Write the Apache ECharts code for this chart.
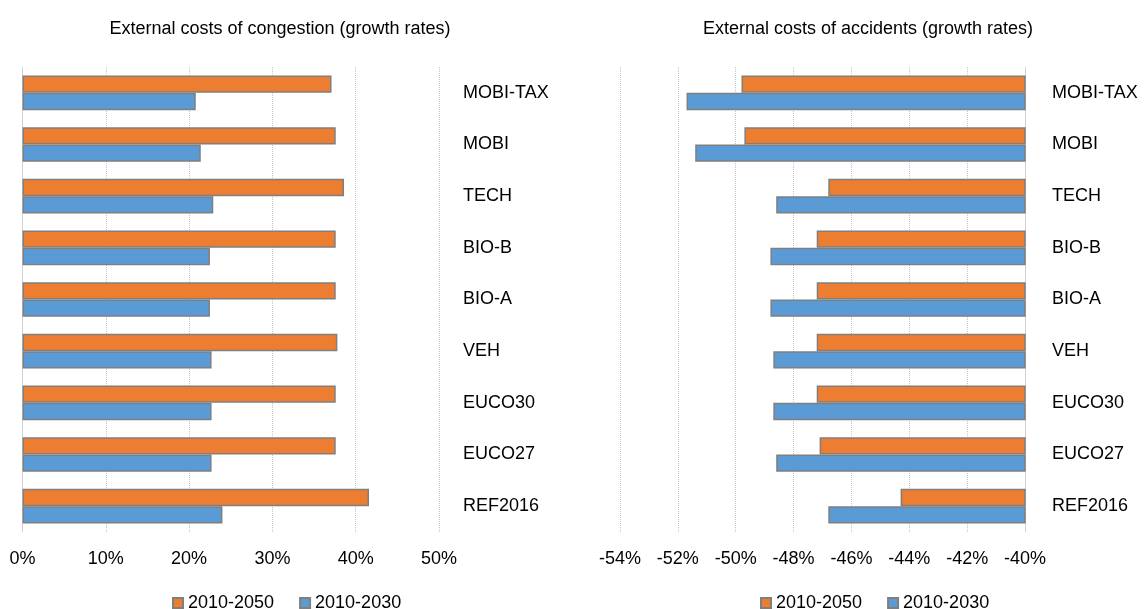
<!DOCTYPE html>
<html>
<head>
<meta charset="utf-8">
<script src="https://cdn.jsdelivr.net/npm/echarts@6/dist/echarts.min.js"></script>
<style>
  html, body { margin: 0; padding: 0; background: #fff; }
  #chart { width: 1144px; height: 609px; }
</style>
</head>
<body>
<div id="chart"></div>
<script>
// scenarios, top to bottom
const categories = ['MOBI-TAX', 'MOBI', 'TECH', 'BIO-B', 'BIO-A', 'VEH', 'EUCO30', 'EUCO27', 'REF2016'];
// congestion growth rates (%)
const congestion2050 = [37.1, 37.6, 38.6, 37.6, 37.6, 37.8, 37.6, 37.6, 41.6];
const congestion2030 = [20.8, 21.4, 22.9, 22.5, 22.5, 22.7, 22.7, 22.7, 24.0];
// accident growth rates (%)
const accidents2050 = [-49.8, -49.7, -46.8, -47.2, -47.2, -47.2, -47.2, -47.1, -44.3];
const accidents2030 = [-51.7, -51.4, -48.6, -48.8, -48.8, -48.7, -48.7, -48.6, -46.8];
const seriesNames = ['2010-2050', '2010-2030'];

const FONT = 'Liberation Sans, Arial, sans-serif';
const orange = '#ED7D31';
const blue = '#5B9BD5';
const gridColor = '#c6c6c6';
const txt = { color: '#000', fontFamily: FONT, fontSize: 18 };

let chart = echarts.init(document.getElementById('chart'));

function barSeries(name, data, color, idx) {
  return {
    type: 'bar',
    name: name,
    data: data,
    xAxisIndex: idx,
    yAxisIndex: idx === 0 ? 0 : 2,
    barGap: '0%',
    barCategoryGap: '33%',
    clip: true,
    itemStyle: { color: color, borderColor: '#7f7f7f', borderWidth: 1.5 },
    emphasis: { disabled: true }
  };
}

let option = {
  animation: false,
  backgroundColor: '#fff',
  title: [
    { text: 'External costs of congestion (growth rates)', left: 275, top: 15, textAlign: 'center',
      textStyle: { color: '#000', fontFamily: FONT, fontSize: 18, fontWeight: 'normal' } },
    { text: 'External costs of accidents (growth rates)', left: 863, top: 15, textAlign: 'center',
      textStyle: { color: '#000', fontFamily: FONT, fontSize: 18, fontWeight: 'normal' } }
  ],
  legend: [
    { data: seriesNames, left: 167, top: 589, icon: 'rect', itemWidth: 10, itemHeight: 10, itemGap: 25,
      textStyle: txt, selectedMode: false },
    { data: seriesNames, left: 755, top: 589, icon: 'rect', itemWidth: 10, itemHeight: 10, itemGap: 25,
      textStyle: txt, selectedMode: false }
  ],
  grid: [
    { left: 22.5, top: 67, width: 416.5, height: 465 },
    { left: 620, top: 67, width: 405, height: 465 }
  ],
  xAxis: [
    { type: 'value', gridIndex: 0, min: 0, max: 50, interval: 10,
      axisLine: { show: false }, axisTick: { show: false },
      axisLabel: Object.assign({ formatter: '{value}%', margin: 18 }, txt),
      splitLine: { show: true, lineStyle: { color: gridColor, type: 'dotted', width: 1 } } },
    { type: 'value', gridIndex: 1, min: -54, max: -40, interval: 2,
      axisLine: { show: false }, axisTick: { show: false },
      axisLabel: Object.assign({ formatter: '{value}%', margin: 18 }, txt),
      splitLine: { show: true, lineStyle: { color: gridColor, type: 'dotted', width: 1 } } }
  ],
  yAxis: [
    { type: 'category', gridIndex: 0, data: categories, inverse: true, position: 'left',
      axisLine: { show: true, lineStyle: { color: '#d0d0d0', width: 1 } },
      axisTick: { show: false }, axisLabel: { show: false } },
    { type: 'category', gridIndex: 0, data: categories, inverse: true, position: 'right',
      axisLine: { show: false }, axisTick: { show: false },
      axisLabel: Object.assign({ margin: 24, align: 'left' }, txt) },
    { type: 'category', gridIndex: 1, data: categories, inverse: true, position: 'right',
      axisLine: { show: true, onZero: false, lineStyle: { color: '#d0d0d0', width: 1 } },
      axisTick: { show: false },
      axisLabel: Object.assign({ margin: 27, align: 'left' }, txt) }
  ],
  series: [
    barSeries(seriesNames[0], congestion2050, orange, 0),
    barSeries(seriesNames[1], congestion2030, blue, 0),
    barSeries(seriesNames[0], accidents2050, orange, 1),
    barSeries(seriesNames[1], accidents2030, blue, 1)
  ]
};

chart.setOption(option);
</script>
</body>
</html>
